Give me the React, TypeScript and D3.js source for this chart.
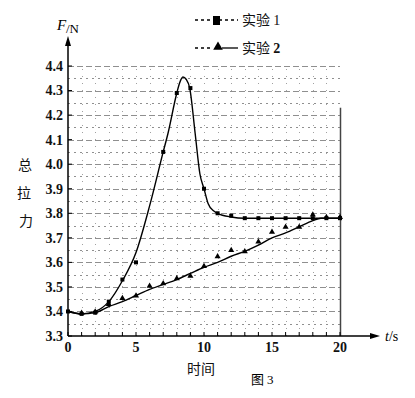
import * as d3 from 'd3';

// readings (t in s, F in N)
const yTicks = [3.3, 3.4, 3.5, 3.6, 3.7, 3.8, 3.9, 4.0, 4.1, 4.2, 4.3, 4.4];
const xTicks = [0, 5, 10, 15, 20];
const gridF = [3.35, 3.4, 3.45, 3.5, 3.55, 3.6, 3.65, 3.7, 3.75, 3.8, 3.85, 3.9, 3.95, 4.0, 4.05, 4.1, 4.15, 4.2, 4.25, 4.3, 4.35, 4.4];
const gridT = [1, 2, 3, 4, 5, 6, 7, 8, 9, 10, 11, 12, 13, 14, 15, 16, 17, 18, 19];

// experiment 1: fitted curve + measured points
const curveT1 = [0, 1, 2, 3, 4, 5, 6, 7, 7.35, 8, 8.2, 8.45, 8.7, 8.95, 9.35, 9.7, 10, 10.3, 10.7, 11, 12, 13, 20];
const curveF1 = [3.40, 3.39, 3.40, 3.44, 3.525, 3.64, 3.83, 4.05, 4.125, 4.29, 4.33, 4.355, 4.345, 4.31, 4.125, 3.96, 3.90, 3.84, 3.81, 3.80, 3.785, 3.78, 3.78];
const markT1 = [0, 1, 2, 3, 4, 5, 7, 8, 9, 10, 11, 12, 13, 14, 15, 16, 17, 18, 19, 20];
const markF1 = [3.40, 3.39, 3.395, 3.44, 3.53, 3.60, 4.05, 4.29, 4.31, 3.90, 3.80, 3.79, 3.78, 3.78, 3.78, 3.78, 3.78, 3.78, 3.78, 3.78];

// experiment 2
const curveT2 = [0, 1, 2, 3, 4, 5, 6, 7, 8, 9, 10, 11, 12, 13, 14, 15, 16, 17, 18, 18.6, 20];
const curveF2 = [3.40, 3.39, 3.395, 3.42, 3.44, 3.465, 3.49, 3.51, 3.53, 3.555, 3.58, 3.60, 3.625, 3.645, 3.67, 3.70, 3.72, 3.745, 3.77, 3.78, 3.78];
const markT2 = [1, 2, 3, 4, 5, 6, 7, 8, 9, 10, 11, 12, 13, 14, 15, 16, 17, 18, 19, 20];
const markF2 = [3.39, 3.395, 3.425, 3.45, 3.46, 3.50, 3.51, 3.53, 3.54, 3.58, 3.62, 3.645, 3.64, 3.68, 3.72, 3.74, 3.74, 3.79, 3.78, 3.78];

const serif = '"Liberation Serif", "DejaVu Serif", serif';
const cjk = '"Noto Sans CJK SC", sans-serif';

export default function App() {
  const x = d3.scaleLinear().domain([0, 20]).range([68, 340]);
  const y = d3.scaleLinear().domain([3.3, 4.4]).range([336, 66]);

  const line = d3.line<[number, number]>()
    .x(d => x(d[0]))
    .y(d => y(d[1]))
    .curve(d3.curveMonotoneX);

  const path1 = line(curveT1.map((t, i) => [t, curveF1[i]]));
  const path2 = line(curveT2.map((t, i) => [t, curveF2[i]]));
  const tri = d3.symbol(d3.symbolTriangle, 16)();

  const x0 = x(0), yb = y(3.3);

  return (
    <svg width={415} height={398} style={{ position: 'absolute', left: 0, top: 0, background: '#fff' }}>
      {/* grid */}
      <g stroke="#444" strokeWidth={1}>
        {gridF.map(f => (
          <line key={'h' + f} x1={x0} x2={x(20)} y1={Math.round(y(f)) + 0.5} y2={Math.round(y(f)) + 0.5}
            strokeDasharray={Math.round(f * 100) % 10 === 0 ? '6,3' : '2,4'} strokeOpacity={0.6} />
        ))}
        {gridT.map(t => (
          <line key={'v' + t} x1={Math.round(x(t)) + 0.5} x2={Math.round(x(t)) + 0.5} y1={yb} y2={y(4.4)}
            strokeDasharray="1,6" strokeOpacity={0.5} />
        ))}
        <line x1={x(20) + 0.5} x2={x(20) + 0.5} y1={yb} y2={y(4.23)} strokeWidth={1.5} />
      </g>

      {/* axes */}
      <g stroke="#000" strokeWidth={1.5} fill="none">
        <line x1={x0} x2={x0} y1={yb} y2={40} />
        <line x1={x0} x2={374} y1={yb} y2={yb} />
      </g>
      <path d={`M${x0 - 3},46 L${x0},36 L${x0 + 3},46 Z`} fill="#000" />
      <path d={`M370,${yb - 3} L380,${yb} L370,${yb + 3} Z`} fill="#000" />
      {yTicks.map(v => (
        <line key={'yt' + v} x1={x0} x2={x0 + 4} y1={y(v)} y2={y(v)} stroke="#000" />
      ))}
      {d3.range(0, 21).map(t => (
        <line key={'xt' + t} x1={x(t)} x2={x(t)} y1={yb} y2={yb - 4} stroke="#000" />
      ))}

      {/* tick labels */}
      <g fontFamily={serif} fontSize={14} fontWeight="bold" fill="#111">
        {yTicks.map(v => (
          <text key={'yl' + v} x={63} y={y(v)} dy="0.35em" textAnchor="end">{v.toFixed(1)}</text>
        ))}
        {xTicks.map(v => (
          <text key={'xl' + v} x={x(v)} y={352} textAnchor="middle">{v}</text>
        ))}
      </g>

      {/* curves */}
      <path d={path1 ?? ''} fill="none" stroke="#000" strokeWidth={1.4} />
      <path d={path2 ?? ''} fill="none" stroke="#000" strokeWidth={1.4} />
      {markT1.map((t, i) => (
        <rect key={'m1' + i} x={x(t) - 2} y={y(markF1[i]) - 2} width={4} height={4} fill="#000" />
      ))}
      {markT2.map((t, i) => (
        <path key={'m2' + i} d={tri ?? ''} transform={`translate(${x(t)},${y(markF2[i]) - 1})`} fill="#000" />
      ))}

      {/* titles */}
      <text x={57} y={30} fontFamily={serif} fontSize={15} fontStyle="italic">F</text>
      <text x={66} y={33} fontFamily={serif} fontSize={13}>/N</text>
      <text x={385} y={341} fontFamily={serif} fontSize={14} fontStyle="italic">t<tspan fontStyle="normal">/s</tspan></text>
      <g fontFamily={cjk} fontSize={14} textAnchor="middle" fill="#111">
        <text x={25} y={170}>总</text>
        <text x={24} y={198}>拉</text>
        <text x={26} y={226}>力</text>
        <text x={201} y={374}>时间</text>
      </g>
      <text x={251} y={384} fontFamily={cjk} fontSize={13}>图 <tspan fontFamily={serif}>3</tspan></text>

      {/* legend */}
      <g stroke="#000" strokeWidth={1.3}>
        <line x1={195} x2={238} y1={20} y2={20} strokeDasharray="3,3" />
        <line x1={195} x2={212} y1={48} y2={48} strokeDasharray="3,3" />
        <line x1={222} x2={238} y1={48} y2={48} />
      </g>
      <rect x={213} y={16} width={7} height={9} fill="#000" />
      <path d={d3.symbol(d3.symbolTriangle, 40)() ?? ''} transform="translate(218,47)" fill="#000" />
      <g fontFamily={cjk} fontSize={14} fill="#111">
        <text x={242} y={25}>实验 <tspan fontFamily={serif}>1</tspan></text>
        <text x={242} y={53}>实验 <tspan fontFamily={serif} fontWeight="bold">2</tspan></text>
      </g>
    </svg>
  );
}
